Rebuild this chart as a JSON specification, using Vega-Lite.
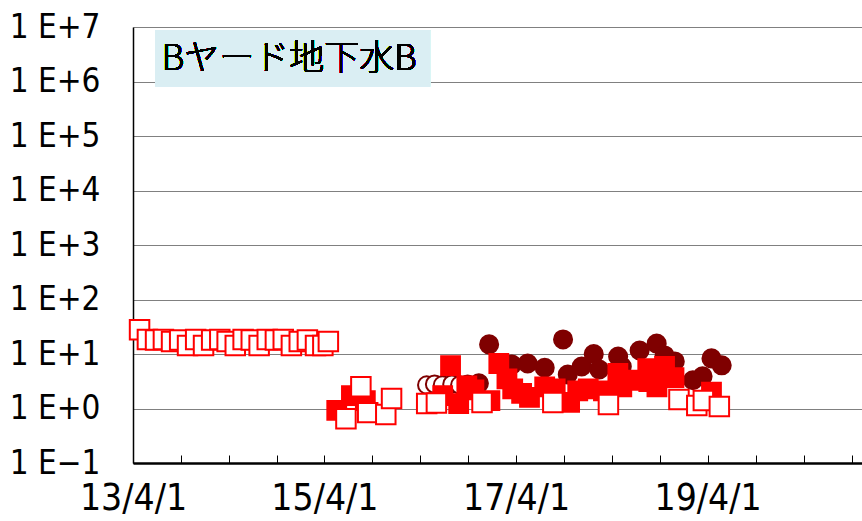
{
  "$schema": "https://vega.github.io/schema/vega-lite/v6.json",
  "width": 729,
  "height": 436,
  "padding": {"left": 133, "top": 27, "right": 0, "bottom": 58},
  "autosize": {"type": "none"},
  "background": "white",
  "config": {"view": {"stroke": null}},
  "data": {"values": [
    {"s":"A","d":"2016-04-25","v":2.7},
    {"s":"A","d":"2016-05-25","v":2.8},
    {"s":"A","d":"2016-06-24","v":2.7},
    {"s":"A","d":"2016-07-30","v":2.8},
    {"s":"A","d":"2016-08-29","v":2.7},
    {"s":"A","d":"2016-09-28","v":2.8},
    {"s":"B","d":"2016-11-10","v":2.9},
    {"s":"B","d":"2016-12-19","v":15},
    {"s":"B","d":"2017-03-16","v":6.4},
    {"s":"B","d":"2017-05-15","v":6.7},
    {"s":"B","d":"2017-07-19","v":5.6},
    {"s":"B","d":"2017-09-27","v":18.5},
    {"s":"B","d":"2017-10-15","v":4.2},
    {"s":"B","d":"2017-12-07","v":5.9},
    {"s":"B","d":"2018-01-22","v":10},
    {"s":"B","d":"2018-02-12","v":5.2},
    {"s":"B","d":"2018-04-25","v":9},
    {"s":"B","d":"2018-05-09","v":5.9},
    {"s":"B","d":"2018-07-16","v":11.6},
    {"s":"B","d":"2018-09-19","v":15.5},
    {"s":"B","d":"2018-10-19","v":9.4},
    {"s":"B","d":"2018-11-27","v":7.3},
    {"s":"B","d":"2019-02-04","v":3.3},
    {"s":"B","d":"2019-03-13","v":3.9},
    {"s":"B","d":"2019-04-16","v":8.3},
    {"s":"B","d":"2019-05-25","v":6.2},
    {"s":"C","d":"2015-05-18","v":0.92},
    {"s":"C","d":"2015-07-13","v":1.73},
    {"s":"C","d":"2015-09-04","v":1.4},
    {"s":"C","d":"2016-06-25","v":1.73},
    {"s":"C","d":"2016-07-25","v":6.1},
    {"s":"C","d":"2016-08-25","v":1.23},
    {"s":"C","d":"2016-09-25","v":2.6},
    {"s":"C","d":"2016-10-22","v":2.2},
    {"s":"C","d":"2016-12-22","v":1.4},
    {"s":"C","d":"2017-01-25","v":6.7},
    {"s":"C","d":"2017-02-25","v":3.5},
    {"s":"C","d":"2017-03-19","v":2.3},
    {"s":"C","d":"2017-04-22","v":1.9},
    {"s":"C","d":"2017-05-22","v":1.6},
    {"s":"C","d":"2017-07-19","v":2.5},
    {"s":"C","d":"2017-08-28","v":2.3},
    {"s":"C","d":"2017-10-22","v":1.29},
    {"s":"C","d":"2017-11-22","v":2.1},
    {"s":"C","d":"2018-01-01","v":2.3},
    {"s":"C","d":"2018-02-28","v":2.1},
    {"s":"C","d":"2018-04-24","v":4.4},
    {"s":"C","d":"2018-05-09","v":2.5},
    {"s":"C","d":"2018-07-04","v":3.3},
    {"s":"C","d":"2018-08-16","v":5.4},
    {"s":"C","d":"2018-08-20","v":3.1},
    {"s":"C","d":"2018-09-20","v":2.5},
    {"s":"C","d":"2018-10-19","v":5.9},
    {"s":"C","d":"2018-11-24","v":3.7},
    {"s":"C","d":"2019-04-16","v":2.0},
    {"s":"D","d":"2013-04-26","v":28},
    {"s":"D","d":"2013-05-26","v":18.5},
    {"s":"D","d":"2013-06-26","v":18},
    {"s":"D","d":"2013-07-26","v":18.5},
    {"s":"D","d":"2013-08-26","v":17},
    {"s":"D","d":"2013-09-26","v":18},
    {"s":"D","d":"2013-10-26","v":14.3},
    {"s":"D","d":"2013-11-26","v":18.5},
    {"s":"D","d":"2013-12-26","v":14.3},
    {"s":"D","d":"2014-01-26","v":18},
    {"s":"D","d":"2014-02-26","v":18.5},
    {"s":"D","d":"2014-03-26","v":17},
    {"s":"D","d":"2014-04-26","v":14.3},
    {"s":"D","d":"2014-05-26","v":18.5},
    {"s":"D","d":"2014-06-26","v":18},
    {"s":"D","d":"2014-07-26","v":14.3},
    {"s":"D","d":"2014-08-26","v":18.5},
    {"s":"D","d":"2014-09-26","v":18},
    {"s":"D","d":"2014-10-26","v":18.5},
    {"s":"D","d":"2014-11-26","v":14.3},
    {"s":"D","d":"2014-12-26","v":17},
    {"s":"D","d":"2015-01-26","v":18},
    {"s":"D","d":"2015-02-26","v":14.3},
    {"s":"D","d":"2015-03-26","v":14.3},
    {"s":"D","d":"2015-04-16","v":17},
    {"s":"D","d":"2015-06-22","v":0.65},
    {"s":"D","d":"2015-08-18","v":2.5},
    {"s":"D","d":"2015-09-13","v":0.84},
    {"s":"D","d":"2015-11-21","v":0.78},
    {"s":"D","d":"2015-12-13","v":1.52},
    {"s":"D","d":"2016-04-25","v":1.23},
    {"s":"D","d":"2016-06-01","v":1.26},
    {"s":"D","d":"2016-11-22","v":1.29},
    {"s":"D","d":"2017-08-19","v":1.29},
    {"s":"D","d":"2018-03-19","v":1.18},
    {"s":"D","d":"2018-12-13","v":1.46},
    {"s":"D","d":"2019-02-19","v":1.13},
    {"s":"D","d":"2019-03-16","v":1.4},
    {"s":"D","d":"2019-05-16","v":1.09}
  ]},
  "layer": [
    {
      "mark": {"type": "rect", "color": "#DAEEF3"},
      "encoding": {
        "x": {"datum": {"year": 2013, "month": 6, "date": 24}, "type": "temporal"},
        "x2": {"datum": {"year": 2016, "month": 5, "date": 8}},
        "y": {"datum": 8700000, "type": "quantitative"},
        "y2": {"datum": 810000}
      }
    },
    {
      "mark": {"type": "text", "text": "Bヤード地下水B", "align": "left", "baseline": "middle", "font": "Noto Sans CJK JP", "fontSize": 35, "fontWeight": 300, "color": "black"},
      "encoding": {
        "x": {"datum": {"year": 2013, "month": 7, "date": 20}, "type": "temporal"},
        "y": {"datum": 2600000, "type": "quantitative"}
      }
    },
    {
      "mark": {"type": "point", "filled": true, "opacity": 1, "strokeWidth": 2},
      "encoding": {
        "x": {
          "field": "d", "type": "temporal",
          "scale": {"domain": [{"year": 2013, "month": 4, "date": 1}, {"year": 2020, "month": 11, "date": 10}]},
          "axis": {
            "title": null,
            "values": [
              {"year": 2013, "month": 4, "date": 1}, {"year": 2013, "month": 10, "date": 1},
              {"year": 2014, "month": 4, "date": 1}, {"year": 2014, "month": 10, "date": 1},
              {"year": 2015, "month": 4, "date": 1}, {"year": 2015, "month": 10, "date": 1},
              {"year": 2016, "month": 4, "date": 1}, {"year": 2016, "month": 10, "date": 1},
              {"year": 2017, "month": 4, "date": 1}, {"year": 2017, "month": 10, "date": 1},
              {"year": 2018, "month": 4, "date": 1}, {"year": 2018, "month": 10, "date": 1},
              {"year": 2019, "month": 4, "date": 1}, {"year": 2019, "month": 10, "date": 1},
              {"year": 2020, "month": 4, "date": 1}, {"year": 2020, "month": 10, "date": 1}
            ],
            "labelExpr": "month(datum.value) == 3 && year(datum.value) % 2 == 1 ? timeFormat(datum.value, '%y/%-m/%-d') : ''",
            "labelFont": "DejaVu Sans Condensed",
            "labelFontSize": 37,
            "labelColor": "black",
            "labelPadding": 25,
            "labelOverlap": false,
            "labelFlush": false,
            "tickSize": -8,
            "tickColor": "black",
            "tickWidth": 1,
            "domainColor": "black",
            "domainWidth": 2.5,
            "grid": false
          }
        },
        "y": {
          "field": "v", "type": "quantitative",
          "scale": {"type": "log", "domain": [0.1, 10000000], "nice": false},
          "axis": {
            "title": null,
            "values": [0.1, 1, 10, 100, 1000, 10000, 100000, 1000000, 10000000],
            "labelExpr": "'1 E' + (datum.value < 0.5 ? '−1' : '+' + format(log(datum.value) / LN10, '.0f'))",
            "labelFont": "DejaVu Sans Condensed",
            "labelFontSize": 33,
            "labelColor": "black",
            "labelPadding": 33,
            "labelOverlap": false,
            "labelFlush": false,
            "ticks": false,
            "grid": true,
            "gridColor": "#808080",
            "gridWidth": 1,
            "domainColor": "black",
            "domainWidth": 1.5
          }
        },
        "shape": {"field": "s", "type": "nominal", "legend": null,
          "scale": {"domain": ["A", "B", "C", "D"], "range": ["circle", "circle", "square", "square"]}},
        "fill": {"field": "s", "type": "nominal", "legend": null,
          "scale": {"domain": ["A", "B", "C", "D"], "range": ["#ffffff", "#7f0000", "#ff0000", "#ffffff"]}},
        "stroke": {"field": "s", "type": "nominal", "legend": null,
          "scale": {"domain": ["A", "B", "C", "D"], "range": ["#7f0000", "#7f0000", "#ff0000", "#ff0000"]}},
        "size": {"field": "s", "type": "nominal", "legend": null,
          "scale": {"domain": ["A", "B", "C", "D"], "range": [300, 380, 380, 310]}}
      }
    }
  ]
}
